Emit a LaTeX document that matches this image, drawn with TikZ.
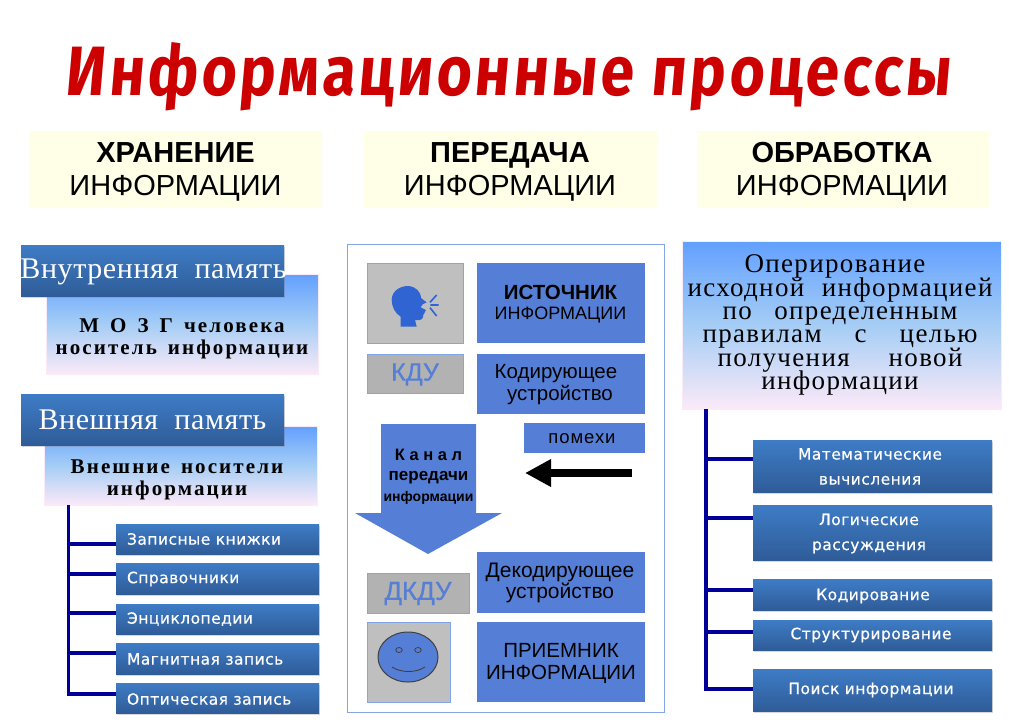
\documentclass[tikz,border=0pt]{standalone}
\usepackage{fontspec}
\setmainfont{Liberation Sans}
\newfontfamily\titlefont[FakeSlant=0.1,LetterSpace=5]{Fira Sans}
\newfontfamily\serifmem[LetterSpace=2,WordSpace=2]{Liberation Serif}
\newfontfamily\serifnote[LetterSpace=10,WordSpace=1.5]{Liberation Serif}
\newfontfamily\serifpl[LetterSpace=5]{Liberation Serif}
\newfontfamily\smallsp[LetterSpace=3,FakeBold=0.5]{DejaVu Sans}
\newfontfamily\widesans[LetterSpace=5]{Liberation Sans}
\newfontfamily\fatsans[FakeBold=0.6]{Liberation Sans}
\newcommand{\tightlines}{\lineskiplimit=-100pt\relax}
\usetikzlibrary{shadows,arrows.meta,calc}
\definecolor{midblue}{RGB}{85,127,214}
\definecolor{edgeblue}{RGB}{130,165,230}
\definecolor{darktop}{RGB}{62,124,198}
\definecolor{darkbot}{RGB}{47,92,152}
\definecolor{lighttop}{RGB}{98,160,255}
\definecolor{lightmid}{RGB}{165,205,245}
\definecolor{lightbot}{RGB}{251,234,248}
\definecolor{treeblue}{RGB}{0,0,153}
\definecolor{titlered}{RGB}{204,0,0}
\definecolor{headyellow}{RGB}{255,255,232}
\definecolor{headblue}{RGB}{48,100,210}
\tikzset{
  pbox/.style={inner sep=0pt,outer sep=0pt,align=center},
  headbox/.style={pbox,fill=headyellow},
  headtext/.style={pbox,text=black,font=\fontsize{29}{33}\selectfont},
  darkbox/.style={pbox,top color=darktop,bottom color=darkbot,
    drop shadow={shadow xshift=0.5pt,shadow yshift=-2pt,opacity=.3,fill=black!50}},
  memtext/.style={pbox,text=white,font=\serifmem\fontsize{30}{30}\selectfont},
  itemtext/.style={pbox,text=white,font=\smallsp\fontsize{15.5}{25}\selectfont},
  lightbox/.style={pbox,top color=lighttop,bottom color=lightbot,middle color=lightmid,draw=lightbot,line width=.6pt},
  notetext/.style={pbox,text=black,font=\serifnote\bfseries\fontsize{21}{22}\selectfont\tightlines},
  bluebox/.style={pbox,fill=midblue},
  bluetext/.style={pbox,text=black,font=\fontsize{20.5}{21.5}\selectfont},
  greybox/.style={pbox,fill=black!25,draw=edgeblue,line width=.8pt},
  tree/.style={draw=treeblue,line width=3.6pt},
}
% box by its corners
\newcommand{\pn}[6]{%
  \pgfmathsetmacro{\cxx}{(#2+#4)/2}\pgfmathsetmacro{\cyy}{(#3+#5)/2}%
  \pgfmathsetmacro{\www}{#4-#2}\pgfmathsetmacro{\hhh}{#5-#3}%
  \node[#6,minimum width=\www pt,minimum height=\hhh pt] (#1) at (\cxx,\cyy) {};}
% text at a given point
\newcommand{\tx}[5]{\node[#4] (#1) at (#2,#3) {#5};}
\begin{document}
\begin{tikzpicture}[x=1pt,y=-1pt]
\useasboundingbox (0,0) rectangle (1009,721);
\fill[white] (0,0) rectangle (1009,721);
% title
\node[inner sep=0pt,text=titlered,anchor=base] (title) at (507.5,95)
  {\resizebox{885pt}{53pt}{\titlefont\bfseries Информационные процессы}};
% headers
\pn{h1}{30}{131}{322}{208}{headbox}
\pn{h2}{364}{131}{657}{208}{headbox}
\pn{h3}{697}{131}{989}{208}{headbox}
\tx{h1t}{175.5}{172}{headtext}{\textbf{ХРАНЕНИЕ}\\ИНФОРМАЦИИ}
\tx{h2t}{510}{172}{headtext}{\textbf{ПЕРЕДАЧА}\\ИНФОРМАЦИИ}
\tx{h3t}{842}{172}{headtext}{\textbf{ОБРАБОТКА}\\ИНФОРМАЦИИ}
% left column
\pn{mozg}{46}{274}{318}{374}{lightbox}
\tx{mozgt}{182}{339}{notetext}{М О З Г человека\\носитель информации}
\pn{inner}{21}{245}{284}{296}{darkbox}
\tx{innert}{153.5}{271.5}{memtext}{Внутренняя память}
\pn{extl}{44}{426}{317}{505}{lightbox}
\tx{extlt}{177}{480}{notetext}{Внешние носители\\информации}
\pn{outer}{21}{394}{284}{445}{darkbox}
\tx{outert}{152.5}{419.5}{memtext}{Внешняя память}
\pn{b1}{116}{524}{319}{554}{darkbox}
\pn{b2}{116}{563}{319}{594}{darkbox}
\pn{b3}{116}{604}{319}{634}{darkbox}
\pn{b4}{116}{643}{319}{674}{darkbox}
\pn{b5}{116}{683}{319}{713}{darkbox}
\tx{b1t}{127}{539}{itemtext,anchor=west}{Записные книжки}
\tx{b2t}{127}{579}{itemtext,anchor=west}{Справочники}
\tx{b3t}{127}{619}{itemtext,anchor=west}{Энциклопедии}
\tx{b4t}{127}{659}{itemtext,anchor=west}{Магнитная запись}
\tx{b5t}{127}{699}{itemtext,anchor=west}{Оптическая запись}
\coordinate (ltop) at (68.5,505);
\coordinate (lbot) at (68.5,695.8);
\draw[tree] (ltop) -- (lbot);
\draw[tree] (ltop |- 0,544) -- (ltop |- 0,544 -| b1.west);
\draw[tree] (ltop |- 0,574) -- (ltop |- 0,574 -| b2.west);
\draw[tree] (ltop |- 0,613) -- (ltop |- 0,613 -| b3.west);
\draw[tree] (ltop |- 0,653) -- (ltop |- 0,653 -| b4.west);
\draw[tree] (lbot |- 0,694) -- (lbot |- 0,694 -| b5.west);
% middle column
\pn{panel}{347}{244}{664}{712}{pbox,fill=white,draw=edgeblue,line width=1pt}
\pn{icon1}{367}{263}{463}{343}{greybox}
\pn{src}{477}{263}{645}{343}{bluebox}
\tx{srct}{560.5}{304}{pbox,text=black,font=\fontsize{18}{20.5}\selectfont\tightlines}{{\bfseries\fontsize{20.5}{20.5}\selectfont ИСТОЧНИК}\\{\fontsize{18}{20.5}\selectfont ИНФОРМАЦИИ}}
\pn{kdu}{367}{354}{463}{393}{greybox,fill=black!30}
\tx{kdut}{415}{374.5}{pbox,text=midblue,font=\fatsans\fontsize{25}{28}\selectfont}{КДУ}
\pn{enc}{477}{354}{645}{414}{bluebox}
\tx{enct}{556}{384.5}{bluetext}{Кодирующее\\\hspace*{8pt}устройство}
\pn{noise}{524}{423}{645}{453}{bluebox}
\tx{noiset}{582}{438.5}{pbox,text=black,font=\widesans\fontsize{18.5}{20}\selectfont}{помехи}
\fill[midblue] (381,424) -- (476,424) -- (476,513) -- (502,513) -- (428,554) -- (355,513) -- (381,513) -- cycle;
\node[pbox,font=\bfseries\fontsize{16}{20.5}\selectfont] (chan) at (428.5,476.5) {{\fontsize{16.5}{20}\selectfont К а н а л}\\{\fontsize{17}{20}\selectfont передачи}\\{\fontsize{14}{18}\selectfont информации}};
\coordinate (blackend) at (632,473);
\coordinate (blacktip) at (525,473);
\draw[line width=8pt,-{Triangle[length=26pt,width=26pt]}] (blackend) -- (blacktip);
\pn{dec}{477}{552}{645}{613}{bluebox}
\tx{dect}{560}{583}{bluetext,font=\fontsize{21}{21.5}\selectfont}{Декодирующее\\устройство}
\pn{dkdu}{367}{573}{469}{613}{greybox,fill=black!30}
\tx{dkdut}{418}{593.5}{pbox,text=midblue,font=\fatsans\fontsize{26}{28}\selectfont}{ДКДУ}
\pn{icon2}{367}{622}{450}{702}{greybox}
\pn{rcv}{477}{622}{645}{702}{bluebox}
\tx{rcvt}{561}{663}{bluetext,font=\fontsize{20.5}{22}\selectfont}{ПРИЕМНИК\\ИНФОРМАЦИИ}
% speaking head
\begin{scope}[shift={(380,270)},x=0.3333pt,y=-0.3333pt]
\fill[headblue] (62,170) -- (62,140) .. controls (45,130) and (35,110) .. (35,88)
  .. controls (37,62) and (60,48) .. (85,48)
  .. controls (108,50) and (122,65) .. (124,85) -- (140,97) -- (128,103) -- (122,112) -- (138,120)
  -- (130,135) .. controls (130,150) and (120,152) .. (105,150) -- (110,170) -- cycle;
\draw[headblue,line width=1.6pt]
  (150,97) -- (170,75) (151,105) -- (176,105) (150,113) -- (170,138);
\end{scope}
% smiley
\draw[fill=midblue,draw=black!75,line width=1pt] (408,657) ellipse [x radius=30,y radius=25];
\draw[black!75,line width=.8pt] (399,650) ellipse [x radius=3.3,y radius=2.5] (418,650) ellipse [x radius=3.3,y radius=2.5];
\draw[black!75,line width=.9pt] (392,667) .. controls (401,673) and (416,673) .. (425,667);
% right column
\pn{oper}{682}{241}{1001}{409}{lightbox}
\node[pbox,font=\serifpl\fontsize{27}{23.3}\selectfont\tightlines,anchor=center] (opertext) at (840,325)
 {\hspace*{-10pt}Оперирование\\
  \makebox[305pt][s]{исходной\hfill информацией}\\
  \makebox[235pt][s]{по\hfill определенным}\\
  \makebox[275pt][s]{правилам\hfill с\hfill целью}\\
  \makebox[245pt][s]{получения\hfill новой}\\
  информации};
\pn{r1}{753}{440}{992}{492}{darkbox}
\pn{r2}{753}{505}{992}{560}{darkbox}
\pn{r3}{753}{579}{992}{610}{darkbox}
\pn{r4}{753}{620}{992}{650}{darkbox}
\pn{r5}{753}{669}{992}{711}{darkbox}
\tx{r1t}{870}{466.5}{itemtext}{Математические\\вычисления}
\tx{r2t}{869}{533.5}{itemtext}{Логические\\рассуждения}
\tx{r3t}{873}{596}{itemtext}{Кодирование}
\tx{r4t}{871}{635}{itemtext}{Структурирование}
\tx{r5t}{871}{690}{itemtext}{Поиск информации}
\coordinate (rtop) at (706,409);
\coordinate (rbot) at (706,690.8);
\draw[tree] (rtop) -- (rbot);
\draw[tree] (rtop |- 0,459) -- (rtop |- 0,459 -| r1.west);
\draw[tree] (rtop |- 0,518) -- (rtop |- 0,518 -| r2.west);
\draw[tree] (rtop |- 0,590) -- (rtop |- 0,590 -| r3.west);
\draw[tree] (rtop |- 0,632) -- (rtop |- 0,632 -| r4.west);
\draw[tree] (rbot |- 0,689) -- (rbot |- 0,689 -| r5.west);
\end{tikzpicture}
\end{document}
